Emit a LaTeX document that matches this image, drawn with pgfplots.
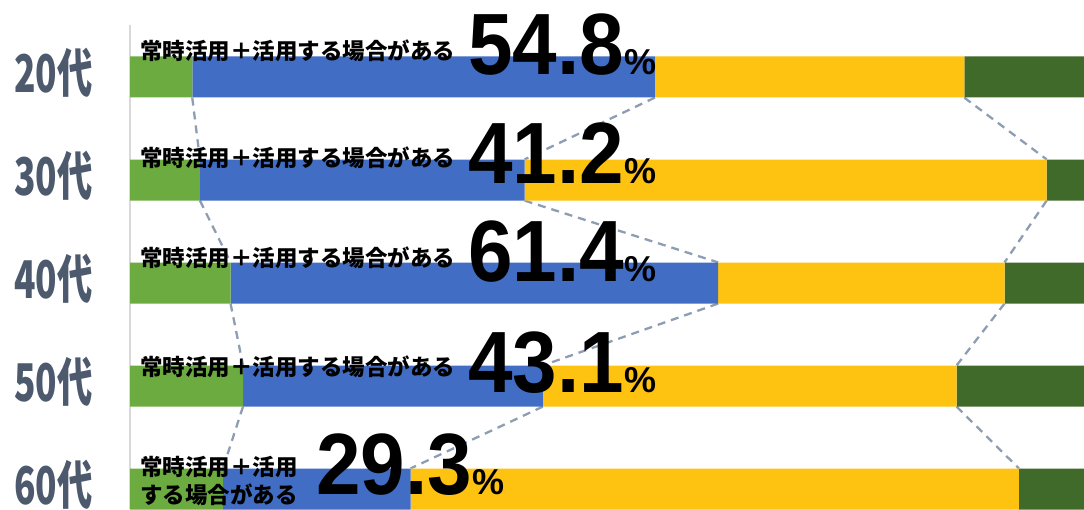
\documentclass[border=0pt]{standalone}
\usepackage{pgfplots}
\pgfplotsset{compat=1.18}
\usepackage{graphicx}
\usepackage{fontspec}
\setmainfont{Noto Sans CJK JP}
\newfontfamily\numfont{Liberation Sans}
\definecolor{cg}{HTML}{6CAB40}
\definecolor{cb}{HTML}{416DC4}
\definecolor{cy}{HTML}{FEC210}
\definecolor{cd}{HTML}{406A29}
\definecolor{labc}{HTML}{4D5A6E}
\definecolor{conn}{HTML}{8D9DB3}
\newcommand{\agelab}[1]{\scalebox{0.68}[1]{\fontsize{52}{52}\selectfont\bfseries #1}}
\newcommand{\anno}{\fontsize{22.5}{27}\selectfont\bfseries 常時活用＋活用する場合がある}
\newcommand{\bignum}[1]{{\numfont\bfseries\fontsize{87}{87}\selectfont\scalebox{0.92}[1]{#1}}\hspace{1pt}{\numfont\fontsize{36}{36}\selectfont\bfseries\%}}
\begin{document}
\begin{tikzpicture}
\path[use as bounding box] (0,0) rectangle (1084pt,509pt);
\begin{axis}[
  at={(130pt,0pt)}, anchor=south west,
  scale only axis, width=954pt, height=483.5pt,
  xmin=0, xmax=99.6, ymin=-0.194, ymax=4.5,
  xbar stacked, bar width=41pt,
  axis x line=none, axis y line*=left,
  axis line style={draw=black!15, line width=1.5pt},
  ytick={0,1,2,3,4},
  yticklabels={\agelab{60代},\agelab{50代},\agelab{40代},\agelab{30代},\agelab{20代}},
  major tick length=0pt,
  yticklabel style={anchor=east, inner sep=0pt, xshift=-37pt, yshift=4pt, text=labc},
  clip=false,
]
\addplot[draw=none, fill=cg] coordinates {(6.5,4) (7.3,3) (10.5,2) (11.8,1) (9.7,0)};
\addplot[draw=none, fill=cb] coordinates {(48.3,4) (33.9,3) (50.9,2) (31.3,1) (19.6,0)};
\addplot[draw=none, fill=cy] coordinates {(32.3,4) (54.5,3) (29.9,2) (43.2,1) (63.5,0)};
\addplot[draw=none, fill=cd] coordinates {(12.9,4) (4.3,3) (8.7,2) (13.7,1) (7.2,0)};
% connectors between segment boundaries
\tikzset{cn/.style={draw=conn, line width=2.3pt, dash pattern=on 8pt off 6pt}}
\draw[cn] (axis cs:6.5,3.8) -- (axis cs:7.3,3.2);
\draw[cn] (axis cs:7.3,2.8) -- (axis cs:10.5,2.2);
\draw[cn] (axis cs:10.5,1.8) -- (axis cs:11.8,1.2);
\draw[cn] (axis cs:11.8,0.8) -- (axis cs:9.7,0.2);
\draw[cn] (axis cs:54.8,3.8) -- (axis cs:41.2,3.2);
\draw[cn] (axis cs:41.2,2.8) -- (axis cs:61.4,2.2);
\draw[cn] (axis cs:61.4,1.8) -- (axis cs:43.1,1.2);
\draw[cn] (axis cs:43.1,0.8) -- (axis cs:29.3,0.2);
\draw[cn] (axis cs:87.1,3.8) -- (axis cs:95.7,3.2);
\draw[cn] (axis cs:95.7,2.8) -- (axis cs:91.3,2.2);
\draw[cn] (axis cs:91.3,1.8) -- (axis cs:86.3,1.2);
\draw[cn] (axis cs:86.3,0.8) -- (axis cs:92.8,0.2);
\coordinate (r4) at (axis cs:0,4);
\coordinate (r3) at (axis cs:0,3);
\coordinate (r2) at (axis cs:0,2);
\coordinate (r1) at (axis cs:0,1);
\coordinate (r0) at (axis cs:0,0);
\end{axis}
% annotations on top
\node[anchor=base west, inner sep=0pt, xshift=10pt, yshift=17pt] at (r4) {\anno};
\node[anchor=base west, inner sep=0pt, xshift=10pt, yshift=13.5pt] at (r3) {\anno};
\node[anchor=base west, inner sep=0pt, xshift=10pt, yshift=17pt] at (r2) {\anno};
\node[anchor=base west, inner sep=0pt, xshift=10pt, yshift=11pt] at (r1) {\anno};
\node[anchor=base west, inner sep=0pt, xshift=10pt, yshift=13.5pt] at (r0) {\fontsize{22.5}{27}\selectfont\bfseries 常時活用＋活用};
\node[anchor=base west, inner sep=0pt, xshift=10pt, yshift=-14pt] at (r0) {\fontsize{22.5}{27}\selectfont\bfseries する場合がある};
\node[anchor=base west, inner sep=0pt, xshift=338pt, yshift=2pt] at (r4) {\bignum{54.8}};
\node[anchor=base west, inner sep=0pt, xshift=338pt, yshift=-3pt] at (r3) {\bignum{41.2}};
\node[anchor=base west, inner sep=0pt, xshift=338pt, yshift=2pt] at (r2) {\bignum{61.4}};
\node[anchor=base west, inner sep=0pt, xshift=338pt, yshift=-6pt] at (r1) {\bignum{43.1}};
\node[anchor=base west, inner sep=0pt, xshift=186pt, yshift=-5pt] at (r0) {\bignum{29.3}};
\end{tikzpicture}
\end{document}
